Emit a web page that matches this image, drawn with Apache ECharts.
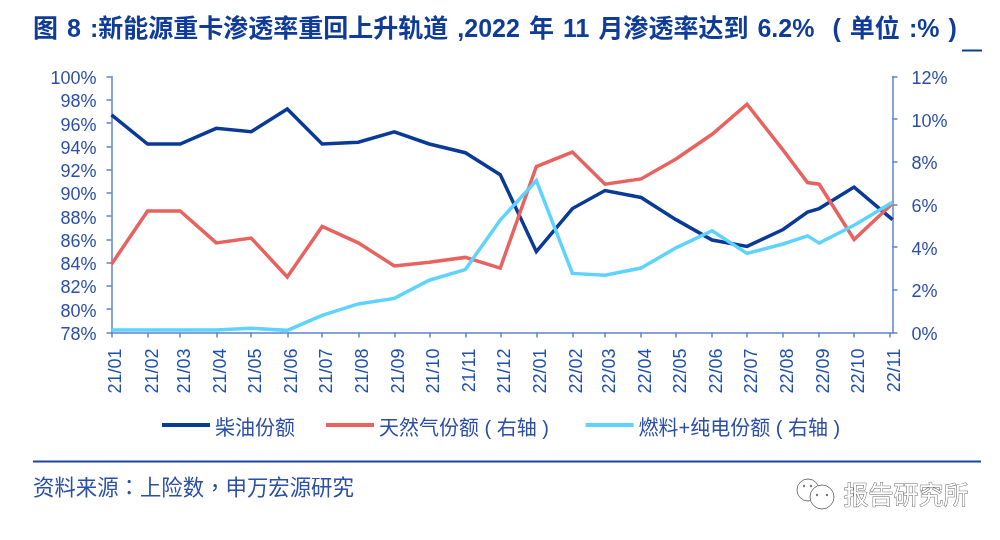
<!DOCTYPE html>
<html><head><meta charset="utf-8">
<style>html,body{margin:0;padding:0;background:#fff}#c{width:1000px;height:540px}</style>
<script src="https://cdn.jsdelivr.net/npm/echarts@6/dist/echarts.min.js"></script>
</head><body><div id="c"></div>
<script>
var tickLabels = ['21/01','21/02','21/03','21/04','21/05','21/06','21/07','21/08','21/09','21/10','21/11','21/12','22/01','22/02','22/03','22/04','22/05','22/06','22/07','22/08','22/09','22/10','22/11'];
var dates = ['2021-01-01','2021-02-01','2021-03-01','2021-04-01','2021-05-01','2021-06-01','2021-07-01','2021-08-01','2021-09-01','2021-10-01','2021-11-01','2021-12-01','2022-01-01','2022-02-01','2022-03-01','2022-04-01','2022-05-01','2022-06-01','2022-07-01','2022-08-01','2022-08-22','2022-09-01','2022-10-01','2022-11-03'];
var diesel = [96.7,94.2,94.2,95.55,95.25,97.2,94.2,94.35,95.25,94.2,93.45,91.55,84.95,88.65,90.2,89.6,87.7,85.95,85.4,86.85,88.35,88.65,90.5,87.7];
var gas = [3.2,5.7,5.7,4.2,4.43,2.6,4.97,4.2,3.12,3.29,3.52,3.02,7.78,8.46,6.95,7.2,8.13,9.29,10.7,8.55,7.03,6.95,4.36,6.05];
var fuelEv = [0.12,0.12,0.12,0.12,0.2,0.1,0.8,1.34,1.6,2.45,2.95,5.27,7.12,2.77,2.68,3.02,3.97,4.77,3.71,4.15,4.53,4.19,5.03,6.1];
var leftRange = [78,100,2], rightRange = [0,12,2];
var seriesNames = ['柴油份额','天然气份额 ( 右轴 ) ','燃料+纯电份额 ( 右轴 )'];
var titleText = '图 8 :新能源重卡渗透率重回上升轨道 ,2022 年 11 月渗透率达到 6.2%  ( 单位 :% )'.replace(/ /g,' \u200A');
var sourceText = '资料来源：上险数，申万宏源研究';
var watermark = '报告研究所';

var textCol='#2b4ea6', axisCol='#5f84cc', fam='"Liberation Sans","Noto Sans CJK SC",sans-serif';
var day=86400000;
function dayNum(s){return Date.parse(s+'T00:00:00Z')/day;}
var tickDates = tickLabels.map(function(l){return dayNum('20'+l.slice(0,2)+'-'+l.slice(3)+'-01');});
function pair(a){return dates.map(function(d,i){return [dayNum(d),a[i]];});}
function line(name,a,col,yi,z){return {name:name,type:'line',yAxisIndex:yi,data:pair(a),symbol:'none',smooth:false,z:z,
  lineStyle:{color:col,width:3.5,join:'miter'},itemStyle:{color:col}};}
function yAxis(r,pos,m){return {type:'value',position:pos,min:r[0],max:r[1],interval:r[2],splitLine:{show:false},
  axisLine:{show:true,onZero:false,lineStyle:{color:axisCol,width:1.5}},axisTick:{show:true,length:5,lineStyle:{color:axisCol,width:1.5}},
  axisLabel:{margin:m,hideOverlap:false,formatter:function(v){return '{a|'+v+'%}';},
    rich:{a:{color:textCol,fontSize:18,fontFamily:fam,padding:[5,0,0,0]}}}};}
var chart=echarts.init(document.getElementById('c'),null,{renderer:'canvas'});
chart.setOption({
  animation:false,backgroundColor:'#fff',
  grid:{left:111.5,right:107.5,top:76.5,bottom:207.5,containLabel:false},
  xAxis:{type:'value',min:dayNum('2021-01-01'),max:dayNum('2022-11-03'),splitLine:{show:false},
    axisLine:{onZero:false,lineStyle:{color:axisCol,width:1.5}},
    axisTick:{show:true,length:5,customValues:tickDates,lineStyle:{color:axisCol,width:1.5}},
    axisLabel:{customValues:tickDates,rotate:90,margin:16,hideOverlap:false,showMinLabel:true,showMaxLabel:true,
      formatter:function(v){return '{a|'+(tickLabels[tickDates.indexOf(v)]||'')+'}';},
      rich:{a:{color:'#1f4fb0',fontSize:18,fontFamily:fam,padding:[10,0,0,0]}}}},
  yAxis:[yAxis(leftRange,'left',15),yAxis(rightRange,'right',19)],
  legend:{left:157,top:414,itemWidth:48,itemHeight:4,itemGap:31,icon:'rect',data:seriesNames,
    formatter:function(n){return '{a|'+n+'}';},
    textStyle:{rich:{a:{color:textCol,fontSize:20,fontFamily:fam,padding:[8,0,0,0]}}}},
  series:[line(seriesNames[0],diesel,'#0a3a98',0,3),line(seriesNames[1],gas,'#e8625f',1,4),line(seriesNames[2],fuelEv,'#5dd3fd',1,5)],
  graphic:[
    {type:'text',left:33,top:18,style:{text:titleText,fill:'#103c99',font:'bold 25px '+fam}},
    {type:'rect',shape:{x:962,y:49.5,width:20,height:2},style:{fill:'#103c99'}},
    {type:'rect',shape:{x:33,y:460.5,width:948,height:2},style:{fill:'#1c459f'}},
    {type:'text',left:33,top:476,style:{text:sourceText,fill:textCol,font:'21.4px "Noto Sans CJK TC",sans-serif'}},
    {type:'circle',shape:{cx:808,cy:490,r:11},style:{fill:'#fff',stroke:'#777',lineWidth:1}},
    {type:'circle',shape:{cx:822,cy:497,r:12},style:{fill:'#fff',stroke:'#777',lineWidth:1}},
    {type:'circle',shape:{cx:804,cy:486,r:1.2},style:{fill:'#777'}},
    {type:'circle',shape:{cx:811,cy:486,r:1.2},style:{fill:'#777'}},
    {type:'circle',shape:{cx:817,cy:495,r:1.2},style:{fill:'#777'}},
    {type:'circle',shape:{cx:827,cy:495,r:1.2},style:{fill:'#777'}},
    {type:'text',left:843,top:484,style:{text:watermark,fill:'#fff',stroke:'#666',lineWidth:1,font:'25px '+fam}}
  ]
});
</script></body></html>
